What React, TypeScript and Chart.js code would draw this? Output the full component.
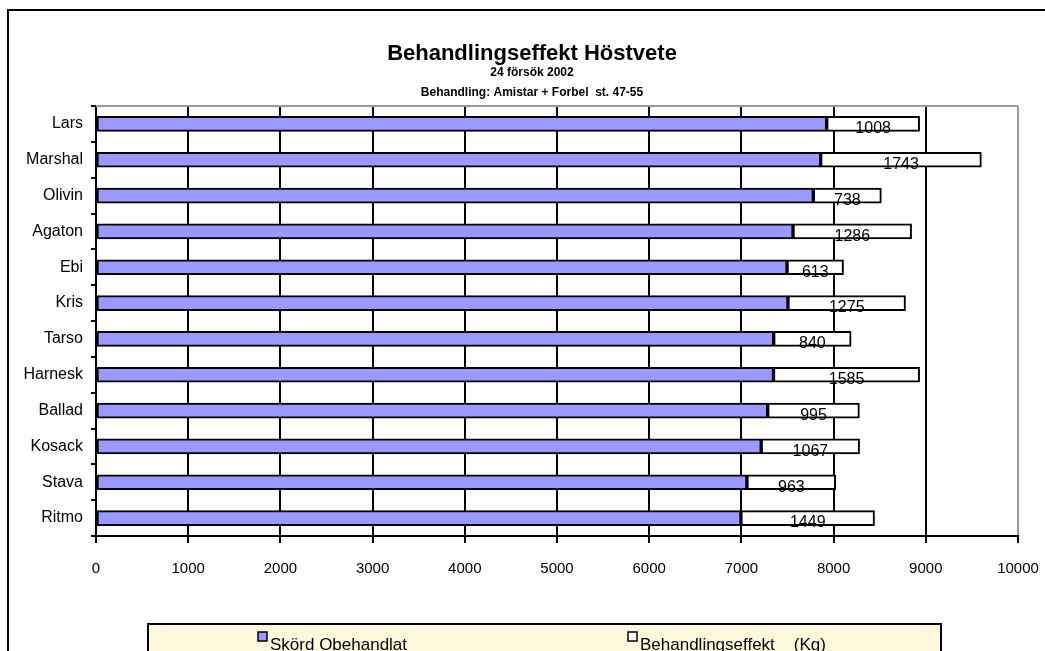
import React, { useEffect, useRef } from "react";
import { Chart, registerables } from "chart.js";

Chart.register(...registerables);

const categories = ["Lars", "Marshal", "Olivin", "Agaton", "Ebi", "Kris", "Tarso", "Harnesk", "Ballad", "Kosack", "Stava", "Ritmo"];
const untreatedYield = [7925, 7860, 7780, 7560, 7495, 7505, 7350, 7348, 7285, 7215, 7060, 6995];
const treatmentEffect = [1008, 1743, 738, 1286, 613, 1275, 840, 1585, 995, 1067, 963, 1449];
const seriesNames = ["Skörd Obehandlat", "Behandlingseffekt    (Kg)"];
const titleLines = ["Behandlingseffekt Höstvete", "24 försök 2002", "Behandling: Amistar + Forbel  st. 47-55"];

const FONT = "'Liberation Sans', Arial, sans-serif";

const decorPlugin = {
  id: "decor",
  beforeDraw(chart: any) {
    const ctx = chart.ctx;
    ctx.save();
    ctx.fillStyle = "#fff";
    ctx.fillRect(0, 0, chart.width, chart.height);
    ctx.strokeStyle = "#000";
    ctx.lineWidth = 2;
    ctx.strokeRect(8, 10, 1100, 700);
    ctx.restore();
  },
  beforeDatasetsDraw(chart: any) {
    const { ctx, chartArea } = chart;
    ctx.save();
    ctx.strokeStyle = "#9a9a9a";
    ctx.lineWidth = 2;
    ctx.beginPath();
    ctx.moveTo(chartArea.left, chartArea.top);
    ctx.lineTo(chartArea.right, chartArea.top);
    ctx.stroke();
    ctx.restore();
  },
  afterDatasetsDraw(chart: any) {
    const ctx = chart.ctx;
    const meta = chart.getDatasetMeta(1);
    ctx.save();
    ctx.fillStyle = "#000";
    ctx.font = `16px ${FONT}`;
    ctx.textAlign = "center";
    ctx.textBaseline = "middle";
    meta.data.forEach((el: any, i: number) => {
      const p = el.getProps(["x", "y", "base"], true);
      ctx.fillText(String(treatmentEffect[i]), (p.x + p.base) / 2, p.y + 5);
    });
    ctx.restore();
  },
  afterDraw(chart: any) {
    const ctx = chart.ctx;
    ctx.save();
    ctx.fillStyle = "#000";
    ctx.textAlign = "center";
    ctx.textBaseline = "alphabetic";
    ctx.font = `bold 22px ${FONT}`;
    ctx.fillText(titleLines[0], 532, 60);
    ctx.font = `bold 12px ${FONT}`;
    ctx.fillText(titleLines[1], 532, 76);
    ctx.fillText(titleLines[2], 532, 96);

    // legend
    ctx.fillStyle = "#FFF8DC";
    ctx.fillRect(148, 624, 793, 60);
    ctx.strokeStyle = "#000";
    ctx.lineWidth = 2;
    ctx.strokeRect(148, 624, 793, 60);
    const items = [
      { x: 258, color: "#9999FF" },
      { x: 628, color: "#FFFFFF" },
    ];
    items.forEach((it, i) => {
      ctx.fillStyle = it.color;
      ctx.fillRect(it.x, 632, 9, 9);
      ctx.strokeStyle = "#000";
      ctx.lineWidth = 1.5;
      ctx.strokeRect(it.x, 632, 9, 9);
      ctx.fillStyle = "#000";
      ctx.textAlign = "left";
      ctx.font = `17px ${FONT}`;
      ctx.fillText(seriesNames[i], it.x + 12, 649.5);
    });
    ctx.restore();
  },
};

export default function App() {
  const ref = useRef<HTMLCanvasElement>(null);
  useEffect(() => {
    if (!ref.current) return;
    const chart = new Chart(ref.current, {
      type: "bar",
      data: {
        labels: categories,
        datasets: [
          {
            label: seriesNames[0],
            data: untreatedYield,
            backgroundColor: "#9999FF",
            borderColor: "#000",
            borderWidth: 2,
            borderSkipped: false,
            barThickness: 15,
          },
          {
            label: seriesNames[1],
            data: treatmentEffect,
            backgroundColor: "#FFFFFF",
            borderColor: "#000",
            borderWidth: 2,
            borderSkipped: false,
            barThickness: 15,
          },
        ],
      },
      options: {
        indexAxis: "y",
        responsive: false,
        animation: false,
        devicePixelRatio: 1,
        layout: { padding: { left: 0, top: 106, right: 27, bottom: 0 } },
        plugins: {
          legend: { display: false },
          tooltip: { enabled: false },
          title: { display: false },
        },
        scales: {
          x: {
            stacked: true,
            min: 0,
            max: 10000,
            ticks: {
              stepSize: 1000,
              color: "#000",
              font: { size: 15, family: FONT },
              padding: 17,
              maxRotation: 0,
              callback: (v: any) => String(v),
            },
            grid: {
              color: (c: any) => (c.index === 10 ? "#9a9a9a" : "#000"),
              tickColor: "#000",
              lineWidth: 2,
              tickLength: 7,
            },
            border: { color: "#000", width: 2 },
            afterFit: (s: any) => {
              s.height = 115;
              s.paddingLeft = 0;
              s.paddingRight = 0;
            },
          },
          y: {
            stacked: true,
            ticks: { color: "#000", font: { size: 16, family: FONT }, padding: 8 },
            grid: { drawOnChartArea: false, color: "#000", tickLength: 5, lineWidth: 2, offset: true },
            border: { color: "#000", width: 2 },
            afterFit: (s: any) => {
              s.width = 96;
              s.paddingTop = 0;
              s.paddingBottom = 0;
            },
          },
        },
      },
      plugins: [decorPlugin],
    } as any);
    return () => chart.destroy();
  }, []);
  return (
    <div style={{ position: "absolute", left: 0, top: 0, width: 1045, height: 651 }}>
      <canvas ref={ref} width={1045} height={651} style={{ display: "block", width: 1045, height: 651 }} />
    </div>
  );
}
